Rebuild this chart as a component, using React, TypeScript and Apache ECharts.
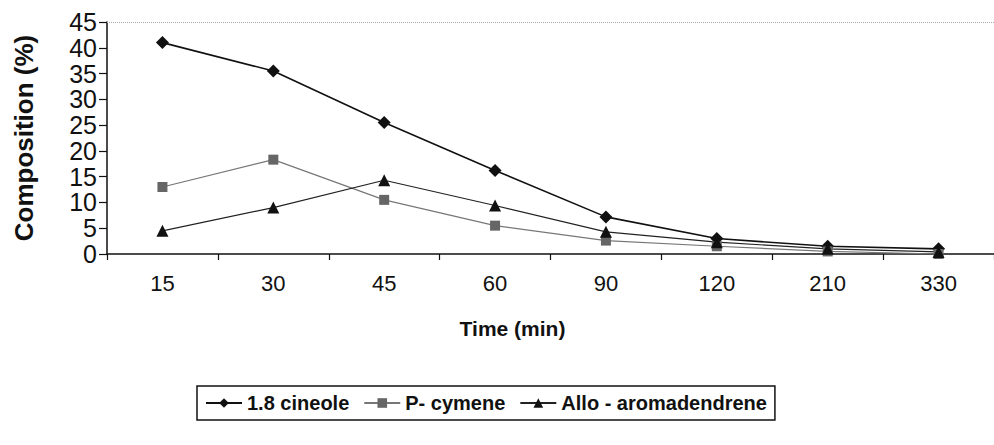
import React, { useEffect, useRef } from "react";
import * as echarts from "echarts";

const categories = ["15", "30", "45", "60", "90", "120", "210", "330"];
const cineole = [41, 35.5, 25.5, 16.2, 7.2, 3, 1.5, 1];
const pCymene = [13, 18.3, 10.5, 5.5, 2.6, 1.5, 0.5, 0];
const alloAromadendrene = [4.5, 9, 14.3, 9.4, 4.3, 2.3, 1, 0.4];
const seriesNames = ["1.8 cineole", "P- cymene", "Allo - aromadendrene"];

const FONT = "'Liberation Sans', Arial, Helvetica, sans-serif";

export default function App() {
  const ref = useRef<HTMLDivElement>(null);
  useEffect(() => {
    if (!ref.current) return;
    const chart = echarts.init(ref.current, null, { renderer: "svg" });
    chart.setOption({
      animation: false,
      backgroundColor: "#ffffff",
      textStyle: { fontFamily: FONT },
      grid: { left: 107, right: 0, top: 22, bottom: 191 },
      legend: {
        left: 197,
        top: 386,
        data: seriesNames,
        itemWidth: 36,
        itemHeight: 12,
        itemGap: 14,
        padding: [7, 8, 7, 8],
        borderColor: "#111",
        borderWidth: 1.5,
        borderRadius: 0,
        textStyle: { fontFamily: FONT, fontSize: 20, fontWeight: "bold", color: "#111" },
      },
      xAxis: {
        type: "category",
        data: categories,
        boundaryGap: true,
        name: "Time (min)",
        nameLocation: "middle",
        nameGap: 64,
        nameTextStyle: { fontFamily: FONT, fontSize: 21, fontWeight: "bold", color: "#111", padding: [0, 76, 0, 0] },
        axisLine: { lineStyle: { color: "#111", width: 1.5 } },
        axisTick: { show: true, alignWithLabel: false, length: 6, lineStyle: { color: "#111", width: 1.2 } },
        axisLabel: { fontFamily: FONT, fontSize: 22, color: "#111", margin: 18 },
        splitLine: { show: false },
      },
      yAxis: {
        type: "value",
        min: 0,
        max: 45,
        interval: 5,
        name: "Composition (%)",
        nameLocation: "middle",
        nameGap: 70,
        nameRotate: 90,
        nameTextStyle: { fontFamily: FONT, fontSize: 26, fontWeight: "bold", color: "#111" },
        axisLine: { show: true, lineStyle: { color: "#111", width: 1.5 } },
        axisTick: { show: true, inside: false, length: 8, lineStyle: { color: "#111", width: 1.2 } },
        axisLabel: { fontFamily: FONT, fontSize: 25, color: "#111", margin: 10, lineHeight: 25 },
        splitLine: { show: false },
      },
      series: [
        {
          name: seriesNames[0],
          type: "line",
          data: cineole,
          symbol: "diamond",
          symbolSize: 13,
          itemStyle: { color: "#111" },
          lineStyle: { color: "#111", width: 1.6 },
          markLine: {
            silent: true,
            symbol: "none",
            label: { show: false },
            lineStyle: { color: "#aaa", type: "dotted", width: 1 },
            data: [{ yAxis: 45 }],
          },
        },
        {
          name: seriesNames[1],
          type: "line",
          data: pCymene,
          symbol: "rect",
          symbolSize: 10,
          itemStyle: { color: "#666" },
          lineStyle: { color: "#777", width: 1.2 },
        },
        {
          name: seriesNames[2],
          type: "line",
          data: alloAromadendrene,
          symbol: "triangle",
          symbolSize: 12,
          itemStyle: { color: "#111" },
          lineStyle: { color: "#222", width: 1.2 },
        },
      ],
    });
    return () => chart.dispose();
  }, []);
  return <div ref={ref} style={{ width: 994, height: 445, position: "absolute", left: 0, top: 0 }} />;
}
